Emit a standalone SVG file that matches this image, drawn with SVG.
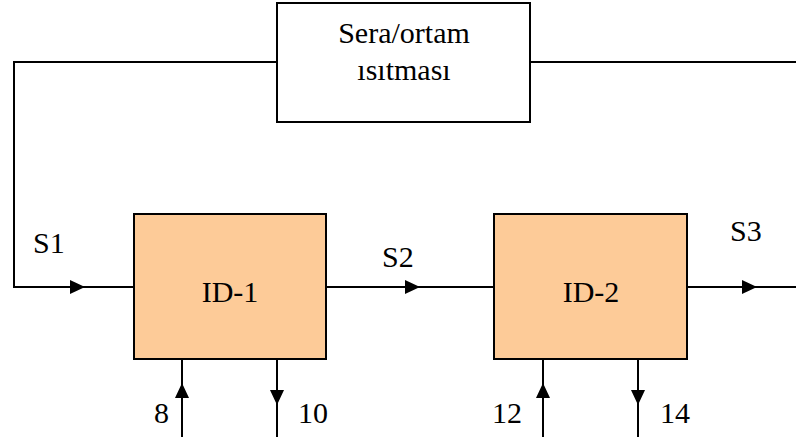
<svg xmlns="http://www.w3.org/2000/svg" width="796" height="437" viewBox="0 0 796 437">
<style>
  text { font-family: "Liberation Serif", "Times New Roman", serif; font-size: 30px; fill: #000; }
  .c { text-anchor: middle; }
  .box { stroke: #000; stroke-width: 2; }
  .ln { fill: none; stroke: #000; stroke-width: 2; }
</style>
<defs>
  <marker id="ah" markerUnits="userSpaceOnUse" markerWidth="16" markerHeight="16" viewBox="0 0 16 16" refX="15" refY="8" orient="auto">
    <path d="M0,1 L15,8 L0,15 z" fill="#000"/>
  </marker>
</defs>
<rect width="796" height="437" fill="#fff"/>
<g id="connectors">
  <path class="ln" d="M277,62 H14 V287 H85" marker-end="url(#ah)"/>
  <path class="ln" d="M85,287 H134"/>
  <path class="ln" d="M530,62 H796"/>
  <path class="ln" d="M326,287 H420" marker-end="url(#ah)"/>
  <path class="ln" d="M420,287 H494"/>
  <path class="ln" d="M687,287 H757" marker-end="url(#ah)"/>
  <path class="ln" d="M757,287 H796"/>
  <path class="ln" d="M182,437 V383" marker-end="url(#ah)"/>
  <path class="ln" d="M182,383 V359"/>
  <path class="ln" d="M277,359 V405" marker-end="url(#ah)"/>
  <path class="ln" d="M277,405 V437"/>
  <path class="ln" d="M543,437 V383" marker-end="url(#ah)"/>
  <path class="ln" d="M543,383 V359"/>
  <path class="ln" d="M638,359 V405" marker-end="url(#ah)"/>
  <path class="ln" d="M638,405 V437"/>
  <text x="33" y="253">S1</text>
  <text x="382" y="267">S2</text>
  <text x="730" y="241">S3</text>
  <text x="154" y="423">8</text>
  <text x="298" y="423">10</text>
  <text x="492" y="423">12</text>
  <text x="660" y="423">14</text>
</g>
<g id="heating">
  <rect class="box" x="277" y="3" width="253" height="119" fill="#fff"/>
  <text class="c" x="404" y="43">Sera/ortam</text>
  <text class="c" x="404" y="80">ısıtması</text>
</g>
<g id="id1">
  <rect class="box" x="134" y="214" width="192" height="145" fill="#FDCB98"/>
  <text class="c" x="230" y="302">ID-1</text>
</g>
<g id="id2">
  <rect class="box" x="494" y="214" width="193" height="145" fill="#FDCB98"/>
  <text class="c" x="591" y="302">ID-2</text>
</g>
</svg>
